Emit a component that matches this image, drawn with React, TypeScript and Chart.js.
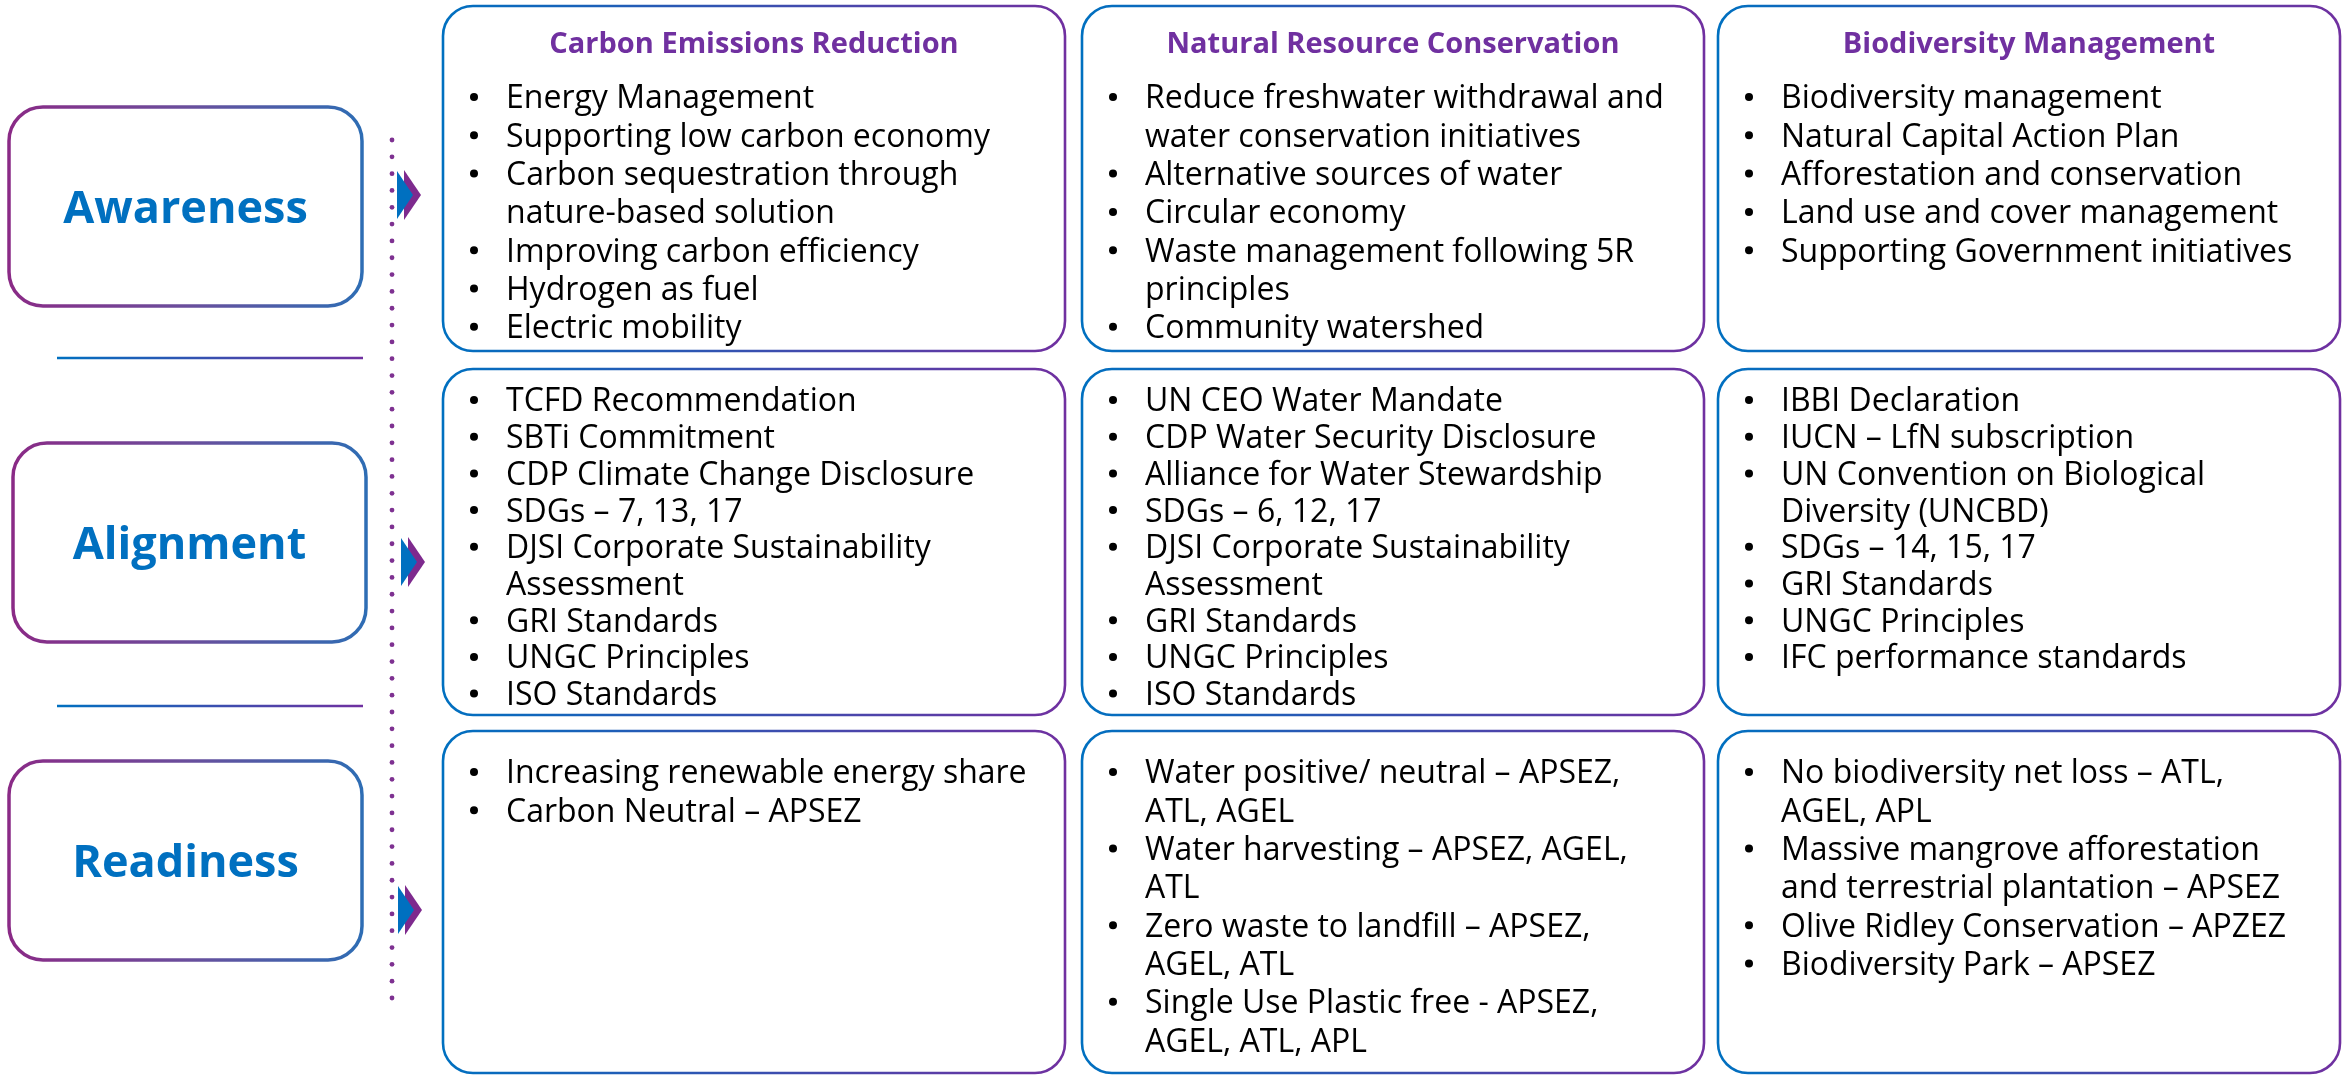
import React, { useEffect, useRef } from "react";
import { Chart, registerables } from "chart.js";

Chart.register(...registerables);

// ---- content ----
const stages: string[] = ["Awareness", "Alignment", "Readiness"];
const themes: string[] = [
  "Carbon Emissions Reduction",
  "Natural Resource Conservation",
  "Biodiversity Management",
];

// each item is one bullet; "\n" marks where the original wraps
const awarenessCarbon: string[] = [
  "Energy Management",
  "Supporting low carbon economy",
  "Carbon sequestration through\nnature-based solution",
  "Improving carbon efficiency",
  "Hydrogen as fuel",
  "Electric mobility",
];
const awarenessWater: string[] = [
  "Reduce freshwater withdrawal and\nwater conservation initiatives",
  "Alternative sources of water",
  "Circular economy",
  "Waste management following 5R\nprinciples",
  "Community watershed",
];
const awarenessBio: string[] = [
  "Biodiversity management",
  "Natural Capital Action Plan",
  "Afforestation and conservation",
  "Land use and cover management",
  "Supporting Government initiatives",
];
const alignmentCarbon: string[] = [
  "TCFD Recommendation",
  "SBTi Commitment",
  "CDP Climate Change Disclosure",
  "SDGs – 7, 13, 17",
  "DJSI Corporate Sustainability\nAssessment",
  "GRI Standards",
  "UNGC Principles",
  "ISO Standards",
];
const alignmentWater: string[] = [
  "UN CEO Water Mandate",
  "CDP Water Security Disclosure",
  "Alliance for Water Stewardship",
  "SDGs – 6, 12, 17",
  "DJSI Corporate Sustainability\nAssessment",
  "GRI Standards",
  "UNGC Principles",
  "ISO Standards",
];
const alignmentBio: string[] = [
  "IBBI Declaration",
  "IUCN – LfN subscription",
  "UN Convention on Biological\nDiversity (UNCBD)",
  "SDGs – 14, 15, 17",
  "GRI Standards",
  "UNGC Principles",
  "IFC performance standards",
];
const readinessCarbon: string[] = [
  "Increasing renewable energy share",
  "Carbon Neutral – APSEZ",
];
const readinessWater: string[] = [
  "Water positive/ neutral – APSEZ,\nATL, AGEL",
  "Water harvesting – APSEZ, AGEL,\nATL",
  "Zero waste to landfill – APSEZ,\nAGEL, ATL",
  "Single Use Plastic free - APSEZ,\nAGEL, ATL, APL",
];
const readinessBio: string[] = [
  "No biodiversity net loss – ATL,\nAGEL, APL",
  "Massive mangrove afforestation\nand terrestrial plantation – APSEZ",
  "Olive Ridley Conservation – APZEZ",
  "Biodiversity Park – APSEZ",
];

const cells: string[][][] = [
  [awarenessCarbon, awarenessWater, awarenessBio],
  [alignmentCarbon, alignmentWater, alignmentBio],
  [readinessCarbon, readinessWater, readinessBio],
];

// ---- layout (in scale units, which map 1:1 to the 2349x1075 canvas) ----
const W = 2349;
const H = 1075;
const colX = [443, 1082, 1718];
const colW = 622;
const rowTop = [6, 369, 731];
const rowBottom = [351, 715, 1073];
const firstLineOffset = [91, 31, 41];
const lineStep = [38.3, 36.7, 38.3];
const stageX = [9, 13, 9];
const stageTop = [107, 443, 761];
const stageW = 353;
const stageH = 199;
const sepY = [358, 706];
const arrowX = [397, 401, 398];
const arrowY = [195, 562, 910];

const BLUE = "#0070C0";
const PURPLE = "#7030A0";
const MAGENTA = "#8A2A86";
const BODY_FONT = "'Open Sans', 'Noto Sans', sans-serif";
const BODY_SIZE = 32;
const TITLE_SIZE = 29;
const STAGE_SIZE = 45;

const diagramPlugin = {
  id: "diagram",
  afterDraw(chart: any) {
    const ctx: CanvasRenderingContext2D = chart.ctx;
    const xs = chart.scales.x;
    const ys = chart.scales.y;
    const px = (v: number) => xs.getPixelForValue(v);
    const py = (v: number) => ys.getPixelForValue(v);

    ctx.save();
    ctx.fillStyle = "#ffffff";
    ctx.fillRect(px(0), py(0), px(W) - px(0), py(H) - py(0));

    // stage boxes
    stages.forEach((s, i) => {
      const x0 = px(stageX[i]);
      const x1 = px(stageX[i] + stageW);
      const y0 = py(stageTop[i]);
      const y1 = py(stageTop[i] + stageH);
      const g = ctx.createLinearGradient(x0, 0, x1, 0);
      g.addColorStop(0, MAGENTA);
      g.addColorStop(0.5, "#6A4E9C");
      g.addColorStop(1, "#2E6DB4");
      ctx.strokeStyle = g;
      ctx.lineWidth = 3.5;
      ctx.beginPath();
      (ctx as any).roundRect(x0, y0, x1 - x0, y1 - y0, 34);
      ctx.stroke();
      ctx.fillStyle = BLUE;
      ctx.font = `bold ${STAGE_SIZE}px ${BODY_FONT}`;
      ctx.textAlign = "center";
      ctx.textBaseline = "alphabetic";
      ctx.fillText(s, (x0 + x1) / 2, (y0 + y1) / 2 + 0.357 * STAGE_SIZE);
    });

    // separators
    sepY.forEach((y) => {
      const x0 = px(57);
      const x1 = px(363);
      const g = ctx.createLinearGradient(x0, 0, x1, 0);
      g.addColorStop(0, BLUE);
      g.addColorStop(1, PURPLE);
      ctx.strokeStyle = g;
      ctx.lineWidth = 2.5;
      ctx.beginPath();
      ctx.moveTo(x0, py(y));
      ctx.lineTo(x1, py(y));
      ctx.stroke();
    });

    // dotted line
    ctx.fillStyle = "#7E3191";
    const dTop = 140;
    const dBot = 998;
    const n = 52;
    for (let k = 0; k < n; k++) {
      const y = dTop + ((dBot - dTop) * k) / (n - 1);
      ctx.beginPath();
      ctx.arc(px(392), py(y), 2.4, 0, Math.PI * 2);
      ctx.fill();
    }

    // arrows
    arrowX.forEach((ax, i) => {
      const ay = arrowY[i];
      ctx.fillStyle = "#7E2A8E";
      ctx.beginPath();
      ctx.moveTo(px(ax + 7), py(ay - 25));
      ctx.lineTo(px(ax + 24), py(ay));
      ctx.lineTo(px(ax + 7), py(ay + 25));
      ctx.closePath();
      ctx.fill();
      ctx.fillStyle = BLUE;
      ctx.beginPath();
      ctx.moveTo(px(ax), py(ay - 24));
      ctx.lineTo(px(ax + 16), py(ay));
      ctx.lineTo(px(ax), py(ay + 24));
      ctx.closePath();
      ctx.fill();
    });

    // cell boxes
    for (let r = 0; r < 3; r++) {
      for (let c = 0; c < 3; c++) {
        const x0 = px(colX[c]);
        const x1 = px(colX[c] + colW);
        const y0 = py(rowTop[r]);
        const y1 = py(rowBottom[r]);
        const g = ctx.createLinearGradient(x0, 0, x1, 0);
        g.addColorStop(0, BLUE);
        g.addColorStop(1, PURPLE);
        ctx.strokeStyle = g;
        ctx.lineWidth = 2.6;
        ctx.beginPath();
        (ctx as any).roundRect(x0, y0, x1 - x0, y1 - y0, 30);
        ctx.stroke();

        if (r === 0) {
          ctx.fillStyle = PURPLE;
          ctx.font = `bold ${TITLE_SIZE}px ${BODY_FONT}`;
          ctx.textAlign = "center";
          ctx.textBaseline = "alphabetic";
          ctx.fillText(themes[c], (x0 + x1) / 2, py(43) + 0.357 * TITLE_SIZE);
        }

        const fs = BODY_SIZE;
        ctx.font = `${fs}px ${BODY_FONT}`;
        ctx.textAlign = "left";
        ctx.textBaseline = "alphabetic";
        let line = 0;
        cells[r][c].forEach((item) => {
          const parts = item.split("\n");
          const cy = rowTop[r] + firstLineOffset[r] + line * lineStep[r];
          ctx.fillStyle = "#000000";
          ctx.beginPath();
          ctx.arc(px(colX[c] + 31), py(cy), 4, 0, Math.PI * 2);
          ctx.fill();
          parts.forEach((p, k) => {
            const ly = rowTop[r] + firstLineOffset[r] + (line + k) * lineStep[r];
            ctx.fillText(p, px(colX[c] + 63), py(ly) + 0.357 * fs);
          });
          line += parts.length;
        });
      }
    }
    ctx.restore();
  },
};

export default function App() {
  const ref = useRef<HTMLCanvasElement | null>(null);
  useEffect(() => {
    if (!ref.current) return;
    const chart = new Chart(ref.current, {
      type: "scatter",
      data: { datasets: [{ data: [], pointRadius: 0 }] },
      options: {
        animation: false,
        responsive: true,
        maintainAspectRatio: false,
        layout: { padding: 0 },
        events: [],
        scales: {
          x: { type: "linear", min: 0, max: W, display: false },
          y: { type: "linear", min: 0, max: H, reverse: true, display: false },
        },
        plugins: { legend: { display: false }, tooltip: { enabled: false } },
      },
      plugins: [diagramPlugin],
    });
    const fonts: any = (document as any).fonts;
    if (fonts && fonts.load) {
      Promise.all([
        fonts.load(`32px 'Open Sans'`),
        fonts.load(`bold 32px 'Open Sans'`),
      ]).then(() => chart.draw()).catch(() => {});
    }
    return () => chart.destroy();
  }, []);
  return (
    <div style={{ position: "fixed", left: 0, top: 0, width: W, height: H, background: "#fff" }}>
      <canvas ref={ref} />
    </div>
  );
}
